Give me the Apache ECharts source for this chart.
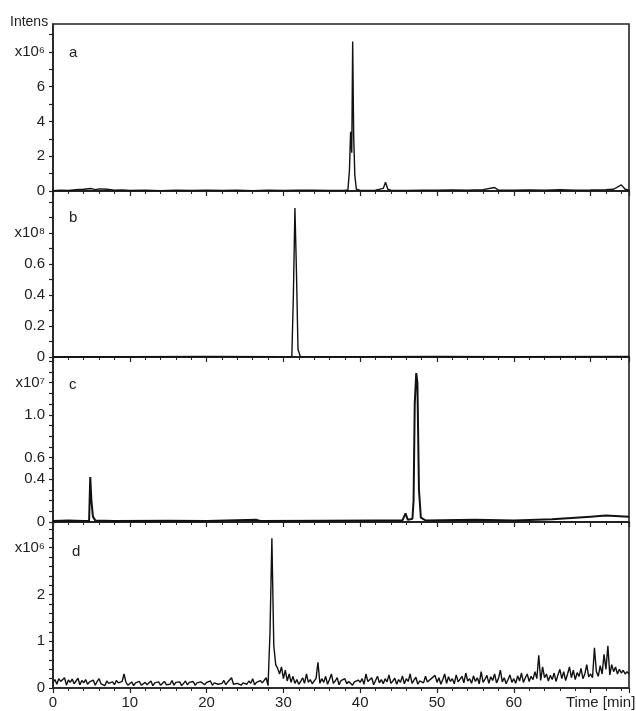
<!DOCTYPE html>
<html><head><meta charset="utf-8">
<script src="https://cdn.jsdelivr.net/npm/echarts@6/dist/echarts.min.js"></script>
<style>html,body{margin:0;padding:0;background:#fff}#c{width:636px;height:711px}</style>
</head><body><div id="c"></div>
<script>
// Panel a (x10^6)
const seriesA = [[0,0.02],[1,0.05],[2,0.03],[3,0.08],[4,0.1],[5,0.14],[5.5,0.08],[6,0.12],[7,0.1],[8,0.05],[9,0.06],[10,0.03],[12,0.04],[14,0.02],[16,0.04],[18,0.03],[20,0.05],[22,0.03],[24,0.04],[26,0.02],[28,0.05],[30,0.03],[32,0.04],[34,0.05],[36,0.03],[38,0.04],[38.4,0.05],[38.6,1.2],[38.75,3.4],[38.9,2.2],[39.02,8.6],[39.15,3.2],[39.3,0.9],[39.5,0.1],[40,0.03],[42,0.05],[43,0.15],[43.3,0.5],[43.6,0.1],[44,0.05],[46,0.03],[48,0.05],[50,0.04],[52,0.06],[54,0.04],[56,0.08],[57.5,0.2],[58,0.05],[60,0.04],[62,0.06],[64,0.05],[66,0.07],[68,0.05],[70,0.06],[72,0.08],[73,0.1],[74,0.35],[74.5,0.1],[75,0.05]];
// Panel b (x10^8)
const seriesB = [[0,0],[10,0.002],[20,0.003],[30,0.002],[31.1,0.003],[31.3,0.4],[31.5,0.96],[31.7,0.55],[31.9,0.05],[32.2,0.003],[40,0.002],[50,0.003],[60,0.002],[75,0.003]];
// Panel c
const seriesC = [[0,0.01],[2,0.015],[4,0.01],[4.7,0.01],[4.85,0.42],[5.0,0.2],[5.2,0.05],[5.5,0.015],[8,0.01],[15,0.012],[20,0.01],[26.5,0.02],[27,0.01],[35,0.012],[42,0.015],[45.5,0.015],[45.9,0.08],[46.2,0.02],[46.8,0.03],[46.95,0.2],[47.1,1.1],[47.3,1.39],[47.45,1.3],[47.65,0.3],[47.9,0.04],[48.5,0.015],[55,0.02],[60,0.015],[65,0.025],[68,0.04],[70,0.05],[72,0.06],[75,0.05]];
// Panel d (x10^6), sampled every 0.25 min from 0 to 75
const dStep = 0.25;
const seriesDValues = [
0.12,0.18,0.08,0.2,0.14,0.1,0.22,0.06,0.17,0.12,0.19,0.09,0.15,0.21,0.07,0.16,0.11,0.18,0.08,0.13,
0.1,0.17,0.06,0.14,0.2,0.09,0.12,0.05,0.15,0.1,0.08,0.13,0.07,0.16,0.11,0.09,0.14,0.3,0.12,0.06,
0.09,0.13,0.05,0.11,0.08,0.14,0.06,0.1,0.12,0.07,0.09,0.15,0.05,0.11,0.08,0.13,0.06,0.1,0.14,0.07,
0.11,0.08,0.16,0.06,0.12,0.09,0.13,0.05,0.1,0.15,0.07,0.12,0.09,0.14,0.06,0.11,0.08,0.13,0.1,0.07,
0.12,0.09,0.15,0.06,0.11,0.14,0.08,0.12,0.1,0.16,0.07,0.13,0.09,0.22,0.08,0.12,0.1,0.14,0.06,0.11,
0.13,0.08,0.15,0.1,0.2,0.07,0.12,0.09,0.16,0.11,0.14,0.22,0.05,1.16,3.2,0.9,0.5,0.42,0.3,0.45,
0.2,0.38,0.15,0.3,0.12,0.25,0.1,0.18,0.08,0.14,0.22,0.1,0.3,0.12,0.18,0.09,0.15,0.2,0.55,0.1,
0.2,0.12,0.25,0.08,0.18,0.3,0.1,0.15,0.22,0.07,0.16,0.12,0.2,0.09,0.14,0.18,0.06,0.13,0.1,0.17,
0.12,0.2,0.08,0.3,0.14,0.1,0.22,0.07,0.16,0.25,0.11,0.18,0.09,0.2,0.13,0.28,0.1,0.15,0.21,0.08,
0.18,0.12,0.26,0.09,0.2,0.14,0.3,0.1,0.17,0.23,0.08,0.15,0.19,0.11,0.25,0.13,0.09,0.2,0.16,0.27,
0.12,0.22,0.08,0.18,0.3,0.1,0.24,0.14,0.2,0.09,0.28,0.13,0.17,0.25,0.11,0.32,0.15,0.2,0.1,0.26,
0.14,0.22,0.09,0.35,0.12,0.19,0.27,0.1,0.24,0.16,0.3,0.11,0.2,0.38,0.13,0.22,0.09,0.18,0.28,0.12,
0.2,0.1,0.26,0.15,0.32,0.12,0.22,0.3,0.14,0.25,0.18,0.35,0.2,0.7,0.16,0.45,0.22,0.3,0.15,0.27,
0.18,0.32,0.14,0.28,0.4,0.2,0.35,0.16,0.3,0.45,0.22,0.38,0.18,0.33,0.25,0.42,0.2,0.3,0.5,0.24,
0.3,0.22,0.86,0.35,0.25,0.48,0.3,0.72,0.4,0.9,0.28,0.5,0.35,0.45,0.3,0.4,0.32,0.38,0.3,0.35,
0.3];
const seriesD = seriesDValues.map((v, i) => [i * dStep, v]);

const panelLetters = ['a','b','c','d'];
const xTickLabels = {0:'0',10:'10',20:'20',30:'30',40:'40',50:'50',60:'60',70:'{t|Time [min]}'};
const yLabelsA = {0:'0',2:'2',4:'4',6:'6',8:'x10\u2076'};
const yLabelsB = {0:'0',2:'0.2',4:'0.4',6:'0.6',8:'x10\u2078'};
const yLabelsC = {0:'0',4:'0.4',6:'0.6',10:'1.0',13:'x10\u2077'};
const yLabelsD = {0:'0',5:'1',10:'2',15:'x10\u2076'};

const FONT = 'Liberation Sans, Arial, sans-serif';
const INK = '#222';
const grids = [
  {left:53, right:7, top:24, height:167},
  {left:53, right:7, top:191, height:166},
  {left:53, right:7, top:357, height:165},
  {left:53, right:7, top:522, height:166}
].map(g => Object.assign(g, {show:true, borderColor:INK, borderWidth:1.6, backgroundColor:'transparent', containLabel:false, outerBoundsMode:'none'}));

function xAxis(i, showLabels){
  return {
    type:'value', gridIndex:i, min:0, max:75, interval:10,
    axisLine:{show:true, lineStyle:{color:INK, width:1.6}},
    axisTick:{show:true, length:5, lineStyle:{color:INK, width:1.2}},
    minorTick:{show:true, splitNumber:5, length:3, lineStyle:{color:INK, width:1}},
    splitLine:{show:false},
    axisLabel:{show:showLabels, color:INK, fontFamily:FONT, fontSize:15, margin:7,
      showMaxLabel:false, formatter: v => xTickLabels[Math.round(v)] || '',
      rich:{t:{fontFamily:FONT, fontSize:15, color:INK, padding:[0,0,0,20]}}}
  };
}
function yAxis(i, max, interval, labels, scale){
  return {
    type:'value', gridIndex:i, min:0, max:max, interval:interval,
    axisLine:{show:true, lineStyle:{color:INK, width:1.6}},
    axisTick:{show:true, length:4, lineStyle:{color:INK, width:1.2}},
    splitLine:{show:false},
    axisLabel:{color:INK, fontFamily:FONT, fontSize:15, margin:8, showMaxLabel:false,
      formatter: v => labels[Math.round(v/scale)] || ''}
  };
}

const chart = echarts.init(document.getElementById('c'), null, {renderer:'canvas'});
const lineStyle = {color:'#111', width:1.4};
chart.setOption({
  animation:false,
  grid: grids,
  xAxis: [xAxis(0,false), xAxis(1,false), xAxis(2,false), xAxis(3,true)],
  yAxis: [
    yAxis(0, 9.6, 1, yLabelsA, 1),
    yAxis(1, 1.07, 0.1, yLabelsB, 0.1),
    yAxis(2, 1.54, 0.1, yLabelsC, 0.1),
    yAxis(3, 3.55, 0.2, yLabelsD, 0.2)
  ],
  series: [
    {type:'line', xAxisIndex:0, yAxisIndex:0, data:seriesA, showSymbol:false, lineStyle:lineStyle},
    {type:'line', xAxisIndex:1, yAxisIndex:1, data:seriesB, showSymbol:false, lineStyle:lineStyle},
    {type:'line', xAxisIndex:2, yAxisIndex:2, data:seriesC, showSymbol:false, lineStyle:{color:'#111', width:2}},
    {type:'line', xAxisIndex:3, yAxisIndex:3, data:seriesD, showSymbol:false, lineStyle:lineStyle}
  ],
  graphic: [
    {type:'text', left:10, top:15, style:{text:'Intens', fill:INK, font:'14px '+FONT}},
    {type:'text', left:69, top:45, style:{text:panelLetters[0], fill:INK, font:'15px '+FONT}},
    {type:'text', left:69, top:210, style:{text:panelLetters[1], fill:INK, font:'15px '+FONT}},
    {type:'text', left:69, top:377, style:{text:panelLetters[2], fill:INK, font:'15px '+FONT}},
    {type:'text', left:72, top:544, style:{text:panelLetters[3], fill:INK, font:'15px '+FONT}}
  ]
});
</script></body></html>
